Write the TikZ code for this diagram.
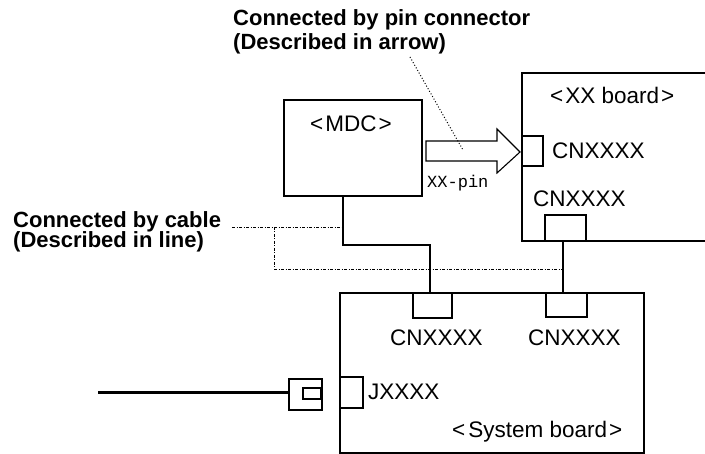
\documentclass[tikz,border=0pt]{standalone}
\usepackage{fontspec}
\setmainfont{Liberation Sans}
\newfontfamily\monofont{Liberation Mono}
\begin{document}
\begin{tikzpicture}[x=1pt,y=-1pt,
  box/.style={draw,line width=1.1pt,minimum width=#1,inner sep=0pt,outer sep=0pt},
  txt/.style={inner sep=0pt,anchor=base west,font=\fontsize{22.5}{26}\selectfont},
  ttl/.style={inner sep=0pt,anchor=base west,font=\fontsize{22}{26}\selectfont\bfseries},
  wire/.style={line width=1.1pt},
  cable/.style={line width=0.9pt,dash pattern=on 3pt off 1.5pt on 1pt off 1.5pt}]
\useasboundingbox (0,0) rectangle (705,454);
\clip (0,0) rectangle (705,454);
% MDC
\node[box=138pt,minimum height=96pt] (mdc) at (353,148) {};
\node[txt] (mdct) at (310,132) {<\kern2pt MDC\kern2pt>};
% XX board
\node[box=190pt,minimum height=168pt] (xx) at (617,157) {};
\node[txt] (xxt) at (550,104) {<\kern2pt XX board\kern2pt >};
\node[box=21pt,minimum height=30pt] (xxpin) at (532.5,151) {};
\node[txt] (xxpint) at (552,159) {CNXXXX};
\node[txt] (xxcnt) at (533,207) {CNXXXX};
\node[box=41pt,minimum height=26pt] (xxcn) at (565.5,228) {};
% System board
\node[box=304pt,minimum height=160pt] (sys) at (492,373) {};
\node[box=39pt,minimum height=25pt] (c1) at (432.5,305.5) {};
\node[box=41pt,minimum height=24pt] (c2) at (566.5,305) {};
\node[txt] (c1t) at (390,346) {CNXXXX};
\node[txt] (c2t) at (528,346) {CNXXXX};
\node[box=23pt,minimum height=31pt] (jx) at (351.5,392.5) {};
\node[txt] (jxt) at (368,400) {JXXXX};
\node[txt] (syst) at (452,438) {<\kern3pt System board\kern2pt >};
% jack
\node[box=33pt,minimum height=31pt] (jack) at (305.5,394.5) {};
\node[box=18pt,minimum height=11pt] (jackin) at (312,393.5) {};
\draw[line width=1.8pt] (jackin.north east) -- (jackin.south east);
\coordinate (cableend) at (98,393);
\draw[line width=3pt] (cableend) -- (jack.west |- cableend);
% pin arrow
\draw[line width=1.1pt,fill=white] (426,141) -- (497,141) -- (497,129) -- (520,152) -- (497,173) -- (497,161) -- (426,161) -- cycle;
\node[inner sep=0pt,anchor=base west,font=\monofont\fontsize{17}{20}\selectfont] (pint) at (427,188) {XX-pin};
% wires
\coordinate (m1) at (343,196);
\coordinate (m2) at (343,245);
\coordinate (m3) at (430,245);
\coordinate (m4) at (430,293);
\draw[wire] (m1) -- (m2) -- (m3) -- (m4);
\coordinate (x1) at (563,241);
\coordinate (x2) at (563,293);
\draw[wire] (x1) -- (x2);
\draw[line width=1.6pt] (xxcn.south west) -- (xxcn.south east);
% titles
\node[ttl] (t1) at (233,26) {Connected by pin connector};
\node[ttl] (t2) at (233,50) {(Described in arrow)};
\node[ttl] (t3) at (13,228) {Connected by cable};
\node[ttl] (t4) at (13,248) {(Described in line)};
% leaders
\coordinate (p1) at (410,57);
\coordinate (p2) at (463,150);
\draw[line width=1pt,dotted] (p1) -- (p2);
\coordinate (d1) at (232,227);
\coordinate (d2) at (343,227);
\coordinate (d3) at (274,227);
\coordinate (d4) at (274,269);
\coordinate (d5) at (563,269);
\draw[cable] (d1) -- (d2);
\draw[cable] (d3) -- (d4) -- (d5);
\end{tikzpicture}
\end{document}
